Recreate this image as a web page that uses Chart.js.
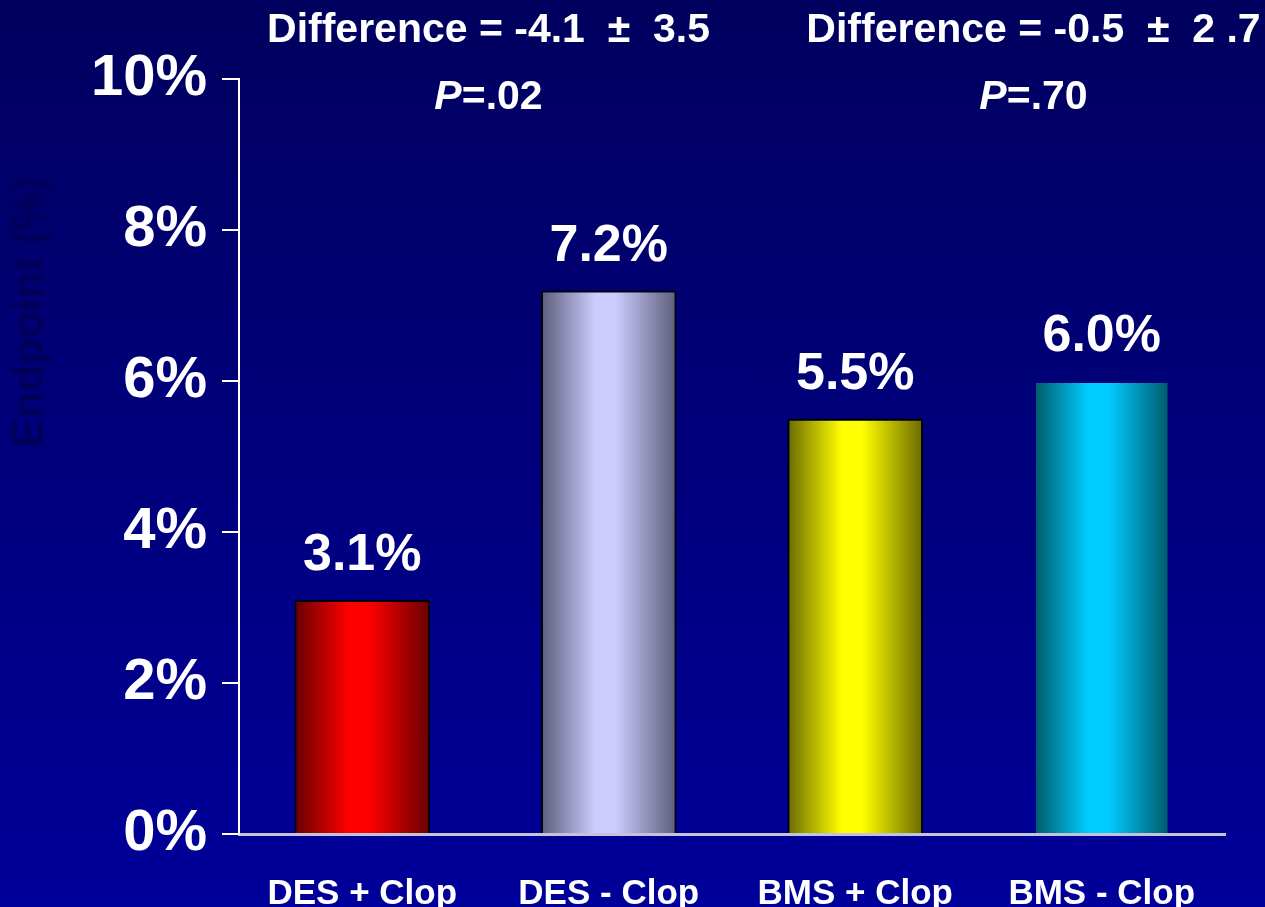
<!DOCTYPE html>
<html><head><meta charset="utf-8">
<script src="https://cdn.jsdelivr.net/npm/chart.js@4.4.0/dist/chart.umd.min.js"></script>
<style>
html,body{margin:0;padding:0;width:1265px;height:907px;overflow:hidden;background:linear-gradient(to bottom,#00005e 0%,#00009a 100%);}
#wrap{position:relative;width:1265px;height:907px}
canvas{display:block}
</style>
</head><body><div id="wrap"><canvas id="c" width="1265" height="907"></canvas></div>
<script>
const categories = ['DES + Clop', 'DES - Clop', 'BMS + Clop', 'BMS - Clop'];
const values = [3.1, 7.2, 5.5, 6.0];
const valueLabels = ['3.1%', '7.2%', '5.5%', '6.0%'];
const yTickValues = [0, 2, 4, 6, 8, 10];
const diffTexts = ['Difference = -4.1  \u00B1  3.5', 'Difference = -0.5  \u00B1  2 .7'];
const pTexts = ['=.02', '=.70'];
const yTitle = 'Endpoint (%)';

const edgeColors = ['#660000', '#5c5c7a', '#6a6a00', '#005868'];
const centerColors = ['#ff0000', '#ccccff', '#ffff00', '#00ccff'];
const borderColors = ['#000000', '#000000', '#000000', 'rgba(0,0,0,0)'];

const FONT = '"Liberation Sans", Arial, sans-serif';
const BAR_PCT = 0.55;

function barGradient(ctx) {
  const chart = ctx.chart;
  const area = chart.chartArea;
  const i = ctx.dataIndex;
  if (!area) return centerColors[i];
  const cx = chart.scales.x.getPixelForValue(i);
  const w = (area.right - area.left) / categories.length * BAR_PCT;
  const g = chart.ctx.createLinearGradient(cx - w / 2, 0, cx + w / 2, 0);
  g.addColorStop(0, edgeColors[i]);
  g.addColorStop(0.4, centerColors[i]);
  g.addColorStop(0.55, centerColors[i]);
  g.addColorStop(1, edgeColors[i]);
  return g;
}

const annotPlugin = {
  id: 'annot',
  afterDatasetsDraw(chart) {
    const c = chart.ctx;
    const meta = chart.getDatasetMeta(0);
    c.save();
    // faint y-axis title
    c.save();
    c.translate(31, 312);
    c.rotate(-Math.PI / 2);
    c.textAlign = 'center';
    c.textBaseline = 'middle';
    c.fillStyle = '#00005a';
    c.font = 'bold 44px ' + FONT;
    c.fillText(yTitle, 0, 0);
    c.restore();

    c.fillStyle = '#ffffff';
    c.textAlign = 'center';
    c.textBaseline = 'middle';
    c.font = 'bold 52px ' + FONT;
    meta.data.forEach((el, i) => {
      c.fillText(valueLabels[i], el.x, el.y - 44);
    });
    const xs = chart.scales.x;
    const centers = [(xs.getPixelForValue(0) + xs.getPixelForValue(1)) / 2 + 3,
                     (xs.getPixelForValue(2) + xs.getPixelForValue(3)) / 2 + 55];
    diffTexts.forEach((t, k) => {
      c.font = 'bold 41px ' + FONT;
      c.textAlign = 'center';
      c.fillText(t, centers[k], 31);
      c.font = 'italic bold 41px ' + FONT;
      const wP = c.measureText('P').width;
      c.font = 'bold 41px ' + FONT;
      const wR = c.measureText(pTexts[k]).width;
      const start = centers[k] - (wP + wR) / 2;
      c.textAlign = 'left';
      c.font = 'italic bold 41px ' + FONT;
      c.fillText('P', start, 98);
      c.font = 'bold 41px ' + FONT;
      c.fillText(pTexts[k], start + wP, 98);
    });
    c.restore();
  }
};

new Chart(document.getElementById('c'), {
  type: 'bar',
  data: {
    labels: categories,
    datasets: [{
      data: values,
      backgroundColor: barGradient,
      borderColor: borderColors,
      borderWidth: 2,
      borderSkipped: 'bottom',
      barPercentage: BAR_PCT,
      categoryPercentage: 1.0
    }]
  },
  options: {
    responsive: false,
    animation: false,
    devicePixelRatio: 1,
    layout: { padding: { top: 79, right: 40, left: 0, bottom: 0 } },
    plugins: { legend: { display: false }, tooltip: { enabled: false } },
    scales: {
      x: {
        grid: { display: false },
        border: { display: true, color: '#c4c4d8', width: 3 },
        ticks: { color: '#ffffff', font: { family: FONT, size: 35, weight: 'bold' }, padding: 31 },
        afterFit(scale) { scale.height = 907 - 834; }
      },
      y: {
        min: 0, max: 10,
        afterBuildTicks(scale) { scale.ticks = yTickValues.map(v => ({ value: v })); },
        ticks: {
          color: '#ffffff',
          font: { family: FONT, size: 58, weight: 'bold' },
          padding: 15,
          callback: v => v + '%'
        },
        grid: { drawOnChartArea: false, drawTicks: true, tickLength: 17, color: '#ffffff', lineWidth: 2 },
        border: { display: true, color: '#ffffff', width: 2 },
        title: { display: false },
        afterFit(scale) { scale.width = 239; }
      }
    }
  },
  plugins: [annotPlugin]
});
</script>
</body></html>
